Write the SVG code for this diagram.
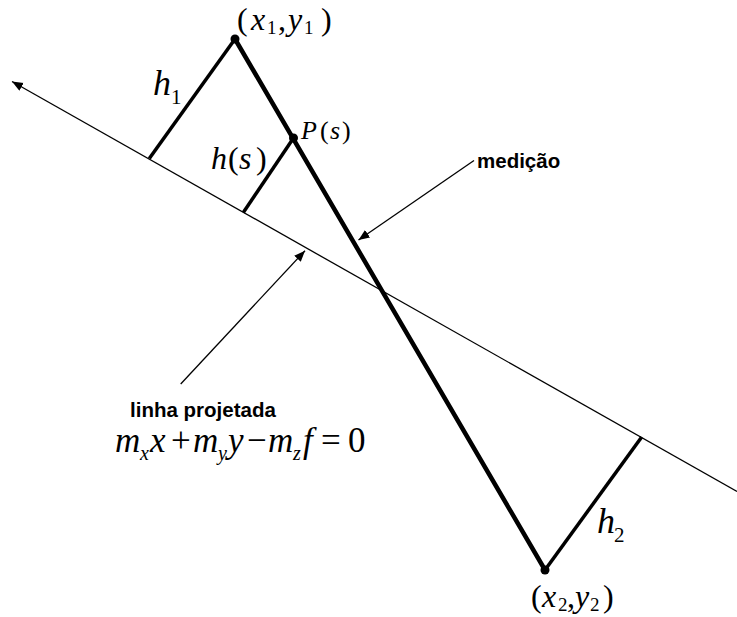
<svg xmlns="http://www.w3.org/2000/svg" width="737" height="617" viewBox="0 0 737 617">
<style>
.thin{stroke:#000;stroke-width:1.3;fill:none}
.thick{stroke:#000;stroke-width:4.5;fill:none;stroke-linecap:round}
.perp{stroke:#000;stroke-width:3.5;fill:none}
.dot{fill:#000}
.mi{font-style:italic}
.mr{font-style:normal}
.lab{font-family:'Liberation Sans',Arial,sans-serif;font-weight:bold;font-size:20.5px;fill:#000}
</style>
<defs>
<marker id="ah" markerUnits="userSpaceOnUse" markerWidth="12" markerHeight="10" refX="11" refY="4.5" orient="auto">
<path d="M0,0 L11,4.5 L0,9 z" fill="#000"/>
</marker>
</defs>
<rect width="737" height="617" fill="#fff"/>
<g id="connectors">
<line id="projected-line" class="thin" x1="737" y1="491.5" x2="12" y2="81.5" marker-end="url(#ah)"/>
<line id="measurement" class="thick" x1="235" y1="39" x2="545" y2="570"/>
<line id="h1-line" class="perp" x1="235" y1="39" x2="149.3" y2="158.5"/>
<line id="hs-line" class="perp" x1="293.5" y1="138" x2="243.3" y2="212.5"/>
<line id="h2-line" class="perp" x1="545" y1="570" x2="641.7" y2="437"/>
<line id="medicao-arrow" class="thin" x1="474" y1="160.5" x2="358.5" y2="240" marker-end="url(#ah)"/>
<line id="linha-arrow" class="thin" x1="180.7" y1="384" x2="305" y2="250.7" marker-end="url(#ah)"/>
</g>
<g font-family="'Liberation Serif','Times New Roman',serif" fill="#000">
<g id="p1">
<circle class="dot" cx="235" cy="39" r="4.5"/>
<text class="mr" x="237" y="30" font-size="32">(</text>
<text class="mi" x="251" y="30" font-size="32">x</text>
<text class="mr" x="267" y="34" font-size="19">1</text>
<text class="mr" x="278" y="30" font-size="32">,</text>
<text class="mi" x="288" y="30" font-size="32">y</text>
<text class="mr" x="304" y="34" font-size="19">1</text>
<text class="mr" x="321" y="30" font-size="32">)</text>
</g>
<g id="ps">
<circle class="dot" cx="293.5" cy="138" r="4.5"/>
<text class="mi" x="301" y="139" font-size="26">P</text>
<text class="mr" x="320" y="139" font-size="26">(</text>
<text class="mi" x="330" y="139" font-size="26">s</text>
<text class="mr" x="342" y="139" font-size="26">)</text>
</g>
<g id="p2">
<circle class="dot" cx="545" cy="570" r="4.5"/>
<text class="mr" x="531" y="607" font-size="32">(</text>
<text class="mi" x="542" y="607" font-size="32">x</text>
<text class="mr" x="558" y="611" font-size="19">2</text>
<text class="mr" x="567" y="607" font-size="32">,</text>
<text class="mi" x="575" y="607" font-size="32">y</text>
<text class="mr" x="590" y="611" font-size="19">2</text>
<text class="mr" x="603" y="607" font-size="32">)</text>
</g>
<g id="h1">
<text class="mi" x="153" y="95" font-size="36">h</text>
<text class="mr" x="171" y="104" font-size="21">1</text>
</g>
<g id="hs">
<text class="mi" x="211" y="169" font-size="32">h</text>
<text class="mr" x="228" y="169" font-size="32">(</text>
<text class="mi" x="239" y="169" font-size="32">s</text>
<text class="mr" x="256" y="169" font-size="32">)</text>
</g>
<g id="h2">
<text class="mi" x="597" y="533" font-size="36">h</text>
<text class="mr" x="614" y="542" font-size="21">2</text>
</g>
<g id="equation">
<text class="mi" x="115" y="452" font-size="35">m</text>
<text class="mi" x="140" y="460" font-size="20">x</text>
<text class="mi" x="150" y="452" font-size="35">x</text>
<text class="mr" x="171" y="452" font-size="35">+</text>
<text class="mi" x="193" y="452" font-size="35">m</text>
<text class="mi" x="218" y="460" font-size="20">y</text>
<text class="mi" x="228" y="452" font-size="35">y</text>
<text class="mr" x="247" y="452" font-size="35">−</text>
<text class="mi" x="268" y="452" font-size="35">m</text>
<text class="mi" x="293" y="460" font-size="20">z</text>
<text class="mi" x="303" y="452" font-size="35">f</text>
<text class="mr" x="321" y="452" font-size="35">=</text>
<text class="mr" x="348" y="452" font-size="35">0</text>
</g>
</g>
<g id="medicao">
<text class="lab" x="477" y="168">medição</text>
</g>
<g id="linha">
<text class="lab" x="130" y="417">linha projetada</text>
</g>
</svg>
